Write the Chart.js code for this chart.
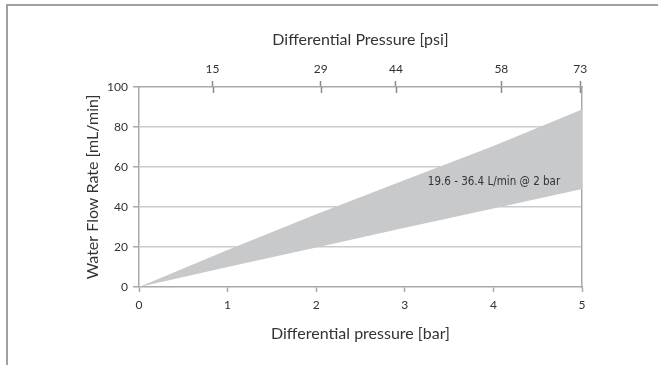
<!DOCTYPE html>
<html>
<head>
<meta charset="utf-8">
<script src="https://cdn.jsdelivr.net/npm/chart.js@4.4.0/dist/chart.umd.min.js"></script>
<style>
    html, body { margin: 0; padding: 0; background: #fff; }
    canvas { display: block; }
</style>
</head>
<body>
<canvas id="chart" width="665" height="365"></canvas>
<script>
// differential pressure [bar] and flow rate band [mL/min]
const pressureBar = [0, 1, 2, 3, 4, 5]
const flowLow = [0, 10, 19.8, 29.6, 39.3, 49]
const flowHigh = [0, 18.5, 36.4, 53.5, 70.5, 88.8]

// secondary axis: psi labels placed at bar positions
const psiTickBar = [0.83, 2.05, 2.9, 4.09, 4.98]
const psiTickLabels = ['15', '29', '44', '58', '73']

const yTicks = [0, 20, 40, 60, 80, 100]

const bandLabel = '19.6 - 36.4 L/min @ 2 bar'
const bandLabelAt = [3.26, 52.6]

const TEXT = '#333'
const AXIS = '#a9a9a9'
const GRID = '#cbcbcb'
const BAND = '#c8c9cb'
const titleFont = {family: 'Lato, "Open Sans", sans-serif', size: 16}
const tickFont = {family: 'Lato, "Open Sans", sans-serif', size: 12}
const noteFont = '11.5px "Liberation Sans Narrow", "DejaVu Sans Condensed", sans-serif'

const extras = {
    id: 'extras',
    beforeDraw(chart) {
        const ctx = chart.ctx
        ctx.save()
        ctx.strokeStyle = '#a0a0a0'
        ctx.lineWidth = 2
        ctx.beginPath()
        ctx.moveTo(7, 365)
        ctx.lineTo(7, 5)
        ctx.lineTo(658, 5)
        ctx.stroke()
        ctx.restore()
    },
    afterDraw(chart) {
        const ctx = chart.ctx
        const top = chart.scales.x2
        const x = chart.scales.x
        const y = chart.scales.y

        // inner half of the crossing psi ticks
        ctx.save()
        ctx.strokeStyle = '#8a8a8a'
        ctx.lineWidth = 1.5
        psiTickBar.forEach(v => {
            const px = Math.round(top.getPixelForValue(v)) + 0.5
            ctx.beginPath()
            ctx.moveTo(px, top.bottom)
            ctx.lineTo(px, top.bottom + 6)
            ctx.stroke()
        })

        ctx.fillStyle = TEXT
        ctx.font = noteFont
        ctx.textBaseline = 'middle'
        ctx.textAlign = 'left'
        ctx.fillText(bandLabel, x.getPixelForValue(bandLabelAt[0]), y.getPixelForValue(bandLabelAt[1]))
        ctx.restore()
    }
}

new Chart(document.getElementById('chart'), {
    type: 'line',
    data: {
        datasets: [
            {
                data: pressureBar.map((p, i) => ({x: p, y: flowLow[i]})),
                borderWidth: 0,
                pointRadius: 0,
                fill: false
            },
            {
                data: pressureBar.map((p, i) => ({x: p, y: flowHigh[i]})),
                borderWidth: 0,
                pointRadius: 0,
                backgroundColor: BAND,
                fill: '-1'
            }
        ]
    },
    options: {
        responsive: false,
        animation: false,
        layout: {padding: {left: 0, right: 83, top: 0, bottom: 0}},
        plugins: {legend: {display: false}, tooltip: {enabled: false}},
        scales: {
            x: {
                type: 'linear',
                position: 'bottom',
                min: 0,
                max: 5,
                afterFit(s) { s.height = 78 },
                ticks: {stepSize: 1, color: TEXT, font: tickFont, padding: 6},
                grid: {drawOnChartArea: false, tickLength: 5, tickColor: AXIS, tickWidth: 1.5},
                border: {color: AXIS, width: 1.5},
                title: {display: true, text: 'Differential pressure [bar]', color: TEXT, font: titleFont, padding: {top: 0, bottom: 22}}
            },
            x2: {
                type: 'linear',
                position: 'top',
                min: 0,
                max: 5,
                afterFit(s) { s.height = 87 },
                afterBuildTicks(s) { s.ticks = psiTickBar.map(v => ({value: v})) },
                ticks: {
                    autoSkip: false,
                    color: TEXT,
                    font: tickFont,
                    padding: 5,
                    callback: (v, i) => psiTickLabels[i]
                },
                grid: {drawOnChartArea: false, tickLength: 6, tickColor: '#8a8a8a', tickWidth: 1.5},
                border: {color: AXIS, width: 1.5},
                title: {display: true, text: 'Differential Pressure [psi]', color: TEXT, font: titleFont, padding: {top: 30, bottom: 0}}
            },
            y: {
                type: 'linear',
                position: 'left',
                min: 0,
                max: 100,
                afterFit(s) { s.width = 139 },
                afterBuildTicks(s) { s.ticks = yTicks.map(v => ({value: v})) },
                ticks: {color: TEXT, font: tickFont, padding: 5},
                grid: {
                    color: c => (c.tick && (c.tick.value === 0 || c.tick.value === 100)) ? 'rgba(0,0,0,0)' : GRID,
                    lineWidth: 1.5,
                    tickLength: 6,
                    tickColor: AXIS,
                    tickWidth: 1.5
                },
                border: {color: AXIS, width: 1.5},
                title: {display: true, text: 'Water Flow Rate [mL/min]', color: TEXT, font: titleFont, padding: {top: 83, bottom: 0}}
            },
            yr: {
                type: 'linear',
                position: 'right',
                min: 0,
                max: 100,
                afterFit(s) { s.width = 0 },
                ticks: {display: false},
                grid: {drawOnChartArea: false, drawTicks: false},
                border: {color: AXIS, width: 1.5}
            }
        }
    },
    plugins: [extras]
})
</script>
</body>
</html>
